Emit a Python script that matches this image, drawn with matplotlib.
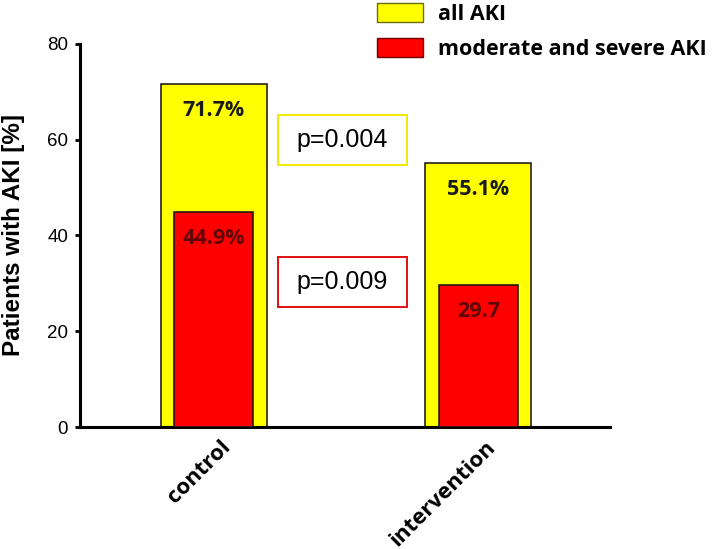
import numpy as np
import matplotlib
matplotlib.use("Agg")
import matplotlib.pyplot as plt
import matplotlib.transforms as mtransforms
from matplotlib.patches import Patch, Rectangle

# data
groups = ["control", "intervention"]
all_aki = [71.7, 55.1]
severe_aki = [44.9, 29.7]
all_text = ["71.7%", "55.1%"]
severe_text = ["44.9%", "29.7"]
p_text = ["p=0.004", "p=0.009"]
p_y = [60.0, 30.3]
legend_labels = ["all AKI", "moderate and severe AKI"]

plt.rcParams["font.family"] = ["Liberation Sans", "DejaVu Sans"]

fig = plt.figure(figsize=(7.18, 5.49), dpi=100)
ax = fig.add_axes([0.1114, 0.2222, 0.738, 0.6977])

x = np.arange(len(groups))
ax.bar(x, all_aki, width=0.4, color="#ffff00", edgecolor="#111111", linewidth=1.1, zorder=2)
ax.bar(x, severe_aki, width=0.3, color="#ff0000", edgecolor="#111111", linewidth=1.1, zorder=3)

bold_font = dict(family=["Open Sans", "DejaVu Sans"], weight="bold", size=15.5)
for xi, v, t in zip(x, all_aki, all_text):
    ax.annotate(t, (xi, v), xytext=(0, -19), textcoords="offset points",
                ha="center", va="center", color="#1a1a1a", zorder=4, **bold_font)
for xi, v, t in zip(x, severe_aki, severe_text):
    ax.annotate(t, (xi, v), xytext=(0, -19), textcoords="offset points",
                ha="center", va="center", color="#5e0606", zorder=4, **bold_font)

# p-value boxes between the bars
box_colors = ["#f2ea00", "#e01010"]
box_w, box_h = 0.49, 10.5
for t, yc, c in zip(p_text, p_y, box_colors):
    xc = 0.487
    ax.add_patch(Rectangle((xc - box_w / 2, yc - box_h / 2), box_w, box_h,
                           facecolor="white", edgecolor=c, linewidth=1.4, zorder=4))
    ax.text(xc, yc, t, ha="center", va="center", fontsize=18, zorder=5)

ax.set_xlim(-0.504, 1.496)
ax.set_ylim(0, 80)
ax.set_yticks([0, 20, 40, 60, 80])
ax.tick_params(axis="y", length=3.6, width=2, labelsize=13.5, pad=5)
ax.set_xticks(x, groups, rotation=45, ha="right", rotation_mode="anchor",
              fontweight="bold", fontsize=16, family=["Open Sans", "DejaVu Sans"])
ax.tick_params(axis="x", length=0, pad=7)
shift = mtransforms.ScaledTranslation(7 / 100, 0, fig.dpi_scale_trans)
for lbl in ax.get_xticklabels():
    lbl.set_transform(lbl.get_transform() + shift)

for side in ["top", "right"]:
    ax.spines[side].set_visible(False)
for side in ["left", "bottom"]:
    ax.spines[side].set_linewidth(2.2)

ax.set_ylabel("Patients with AKI [%]", fontsize=17.5, fontweight="bold")
ax.yaxis.set_label_coords(-0.103, 0.5)

handles = [Patch(facecolor="#ffff00", edgecolor="#6b6b10"),
           Patch(facecolor="#ff0000", edgecolor="#700000")]
fig.legend(handles, legend_labels, loc="upper left",
           bbox_to_anchor=(377 / 718, 1 - 3 / 549), frameon=False,
           borderpad=0, borderaxespad=0, handlelength=2.14, handleheight=0.98,
           handletextpad=0.7, labelspacing=0.62,
           prop=dict(family=["Open Sans", "DejaVu Sans"], weight="bold", size=15.5))

fig.savefig("out.png", dpi=100)
